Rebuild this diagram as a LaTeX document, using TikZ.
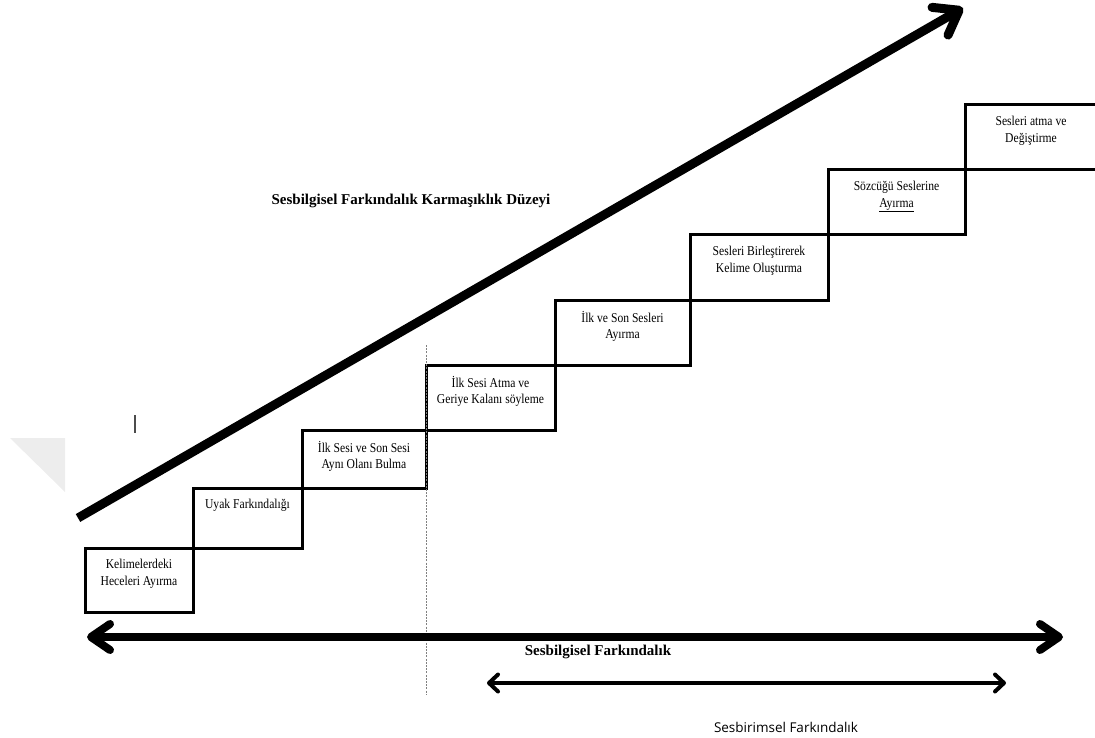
\documentclass[tikz,border=0pt]{standalone}
\usepackage{fontspec}
\setmainfont{Liberation Serif}
\newfontfamily\stepfont[FakeStretch=0.86]{Liberation Serif}
\newfontfamily\levelfont{Open Sans}
\usetikzlibrary{arrows.meta,positioning}

\begin{document}
\begin{tikzpicture}[
            x=1pt, y=-1pt,
            stepbox/.style 2 args={draw, rectangle, line width=3pt, outer sep=0pt, inner sep=0pt, minimum width=#1, minimum height=#2},
            steptext/.style={anchor=north, yshift=-9pt, align=center, inner sep=2pt, font=\stepfont\fontsize{13.5}{16.5}\selectfont},
            headline/.style={font=\bfseries\fontsize{15}{18}\selectfont},
            wideline/.style={line width=8pt, {Straight Barb[length=19pt,width=26pt,round]}-{Straight Barb[length=19pt,width=26pt,round]}},
            narrowline/.style={line width=4pt, {Straight Barb[length=9pt,width=17pt,round]}-{Straight Barb[length=9pt,width=17pt,round]}}
        ]
            \useasboundingbox (0,0) rectangle (1095,738);
            % faint marks left on the page
            \fill[gray!14] (10,438) -- (65,438) -- (65,492) -- cycle;
            \draw[line width=2pt, gray!60!black] (135,415) -- (135,433);

            % the stairs
            \node[stepbox={108}{64}, anchor=south west, label={[steptext]north:{Kelimelerdeki\\Heceleri Ayırma}}] (hece) at (85,612) {};
            \node[stepbox={109}{60}, above right=0pt of hece, label={[steptext]north:{Uyak Farkındalığı}}] (uyak) {};
            \node[stepbox={124}{58}, above right=0pt of uyak, label={[steptext]north:{İlk Sesi ve Son Sesi\\Aynı Olanı Bulma}}] (ayni) {};
            \node[stepbox={129}{65}, above right=0pt of ayni, label={[steptext]north:{İlk Sesi Atma ve\\Geriye Kalanı söyleme}}] (atma) {};
            \node[stepbox={135}{65}, above right=0pt of atma, label={[steptext]north:{İlk ve Son Sesleri\\Ayırma}}] (ilkson) {};
            \node[stepbox={138}{65}, above right=0pt of ilkson, label={[steptext]north:{Sesleri Birleştirerek\\Kelime Oluşturma}}] (birles) {};
            \node[stepbox={137}{65}, above right=0pt of birles, label={[steptext]north:{Sözcüğü Seslerine\\\underline{Ayırma}}}] (sozcuk) {};
            \node[stepbox={132}{65}, above right=0pt of sozcuk, label={[steptext]north:{Sesleri atma ve\\Değiştirme}}] (degis) {};

            % complexity arrow
            \coordinate (kStart) at (78,518);
            \coordinate (kEnd) at (963,8);
            \draw[line width=9pt, -{Straight Barb[length=22pt,width=32pt,round]}] (kStart) -- (kEnd);
            \node[headline] (karmasik) at (411,201) {Sesbilgisel Farkındalık Karmaşıklık Düzeyi};

            % dividing line
            \coordinate (divTop) at (426,345);
            \coordinate (divBot) at (426,695);
            \draw[gray, line width=0.8pt, dash pattern=on 2pt off 1.2pt] (divTop) -- (divBot);

            % awareness ranges
            \coordinate (bilgiL) at (87,637);
            \coordinate (bilgiR) at (1063,637);
            \draw[wideline] (bilgiL) -- (bilgiR);
            \node[headline] (bilgi) at (598,652) {Sesbilgisel Farkındalık};

            \coordinate (birimL) at (487,683);
            \coordinate (birimR) at (1006,683);
            \draw[narrowline] (birimL) -- (birimR);
            \node[font=\levelfont\fontsize{13.5}{16}\selectfont] (birim) at (786,727) {Sesbirimsel Farkındalık};
        \end{tikzpicture}
\end{document}
